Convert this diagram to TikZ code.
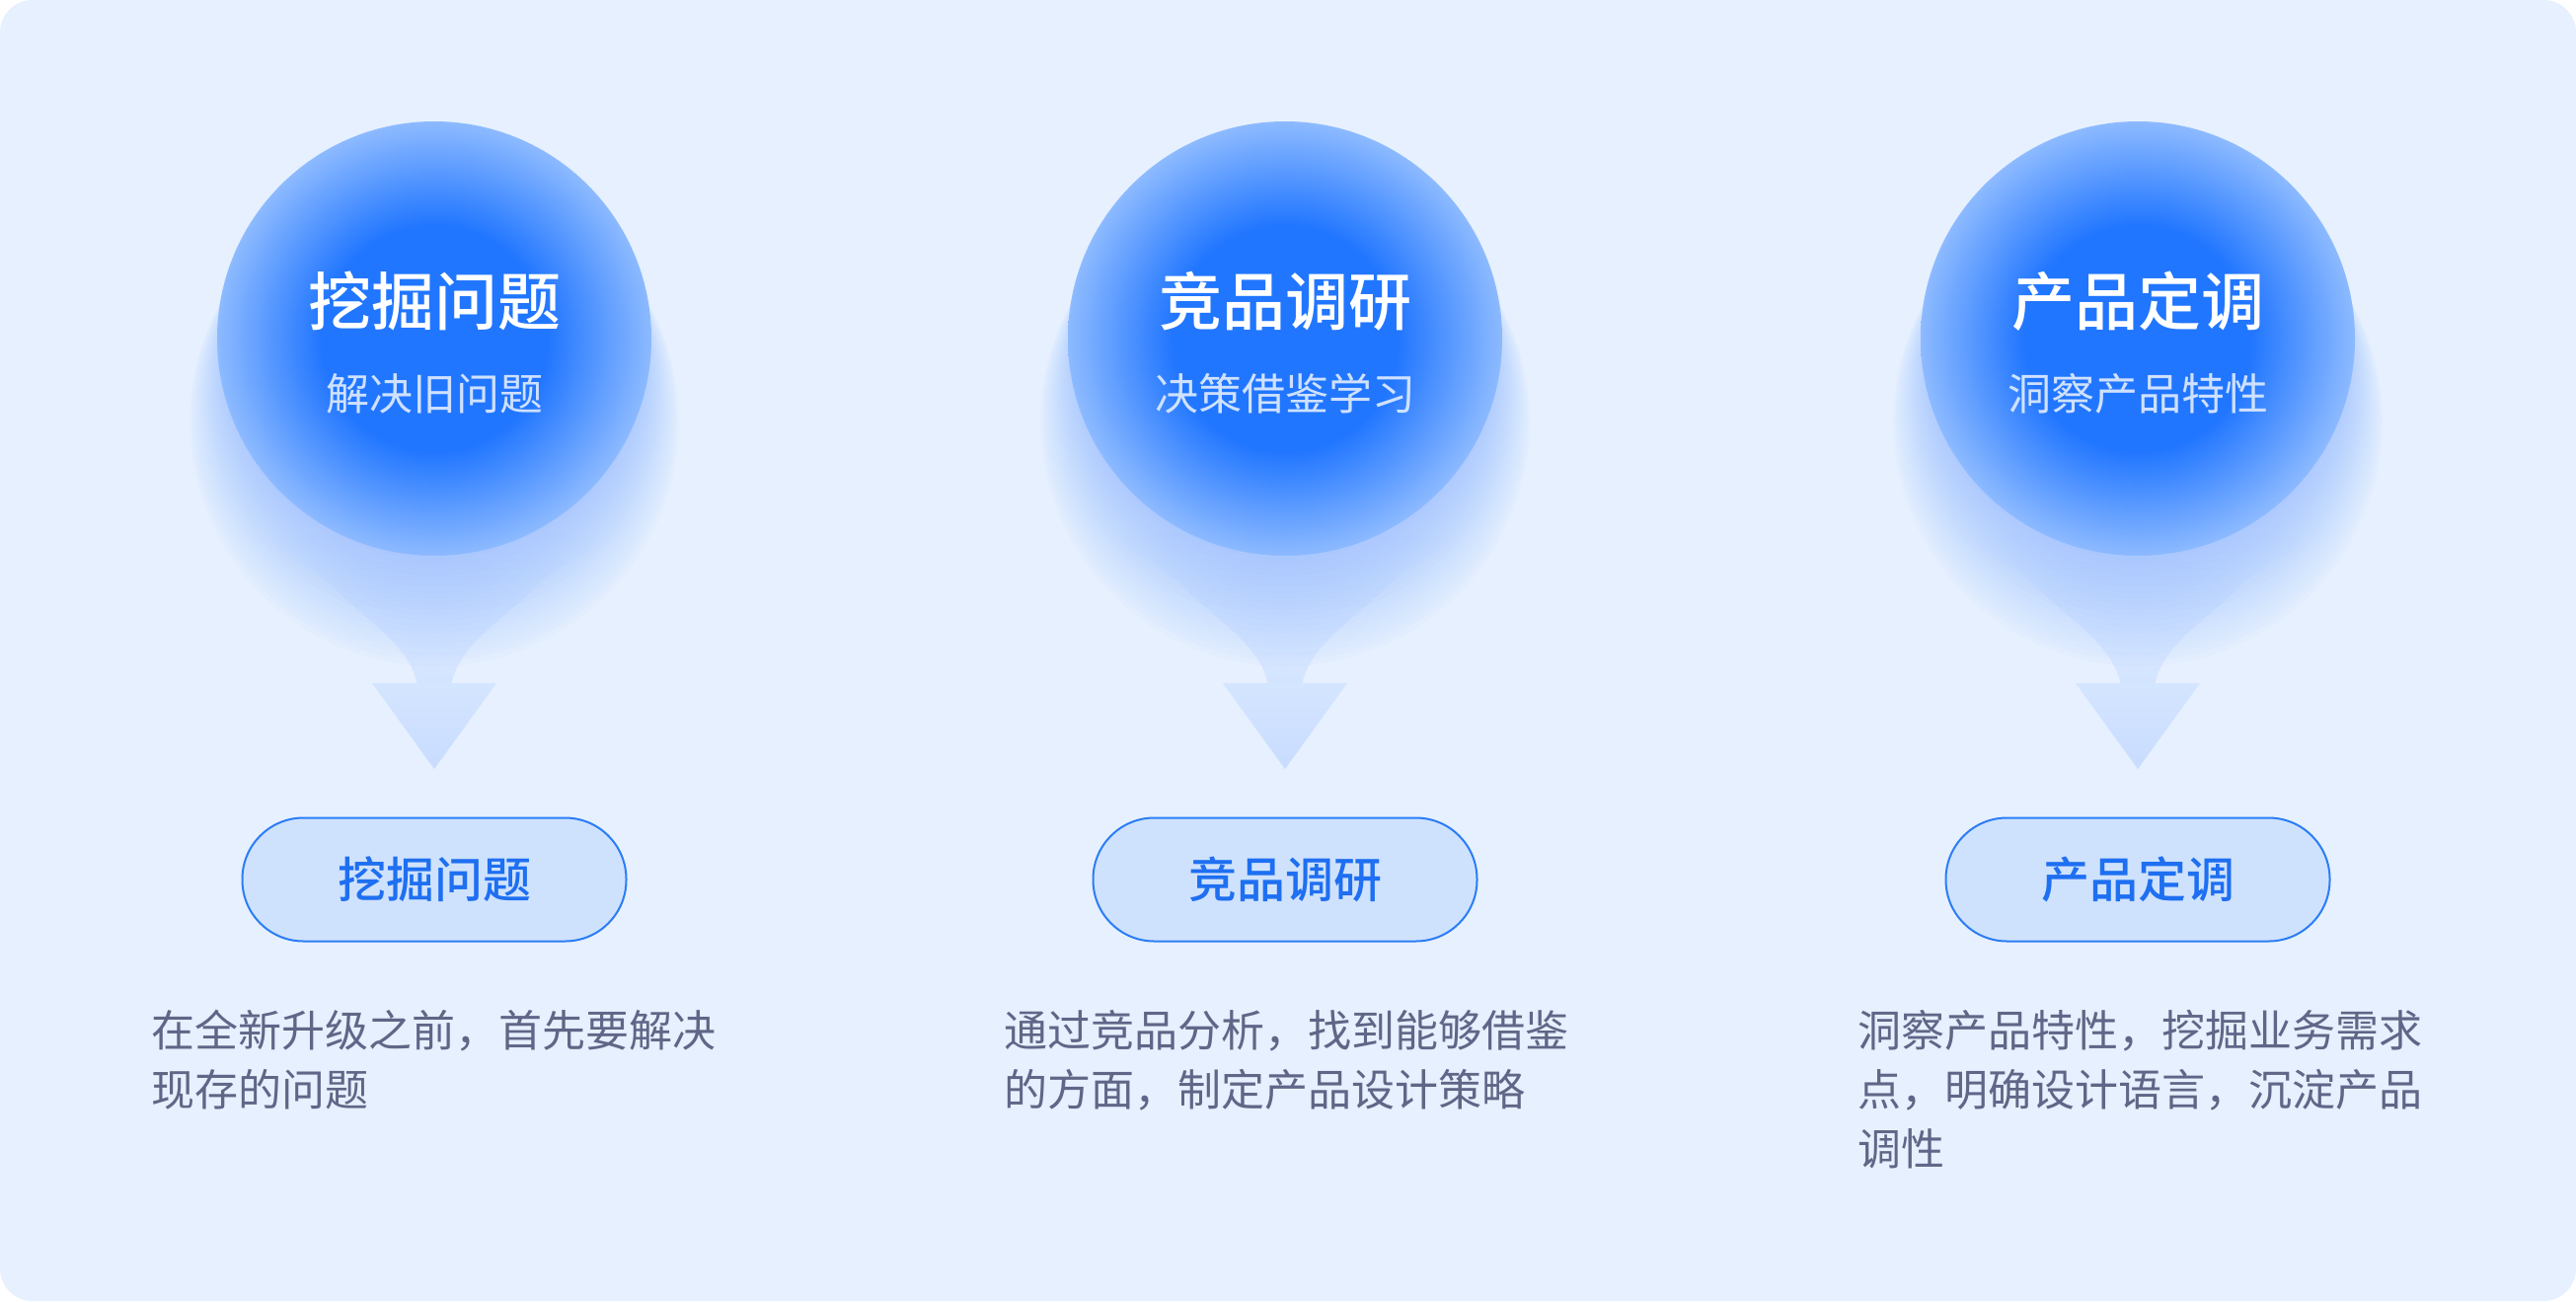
\documentclass[tikz,border=0pt]{standalone}
\usepackage{fontspec}
\setmainfont{Noto Sans CJK SC}
\newfontfamily\medfont{Noto Sans CJK SC Medium}
\definecolor{bg}{HTML}{E6F0FE}
\definecolor{ballin}{HTML}{2176FF}
\definecolor{ballout}{HTML}{8DBAFF}
\definecolor{glowc}{HTML}{6FA6FF}
\definecolor{funmid}{HTML}{CCDFFF}
\definecolor{funbot}{HTML}{D3E4FF}
\definecolor{tritop}{HTML}{D4E5FF}
\definecolor{tribot}{HTML}{C9DCFF}
\definecolor{subc}{HTML}{CFE1FF}
\definecolor{pillfill}{HTML}{CFE2FD}
\definecolor{pillline}{HTML}{2C7DF6}
\definecolor{pilltext}{HTML}{1E6FF1}
\definecolor{desc}{HTML}{5F6687}
\pgfdeclareradialshading{ballsh}{\pgfpoint{0bp}{0bp}}{color(0bp)=(ballin); color(13bp)=(ballin); color(25bp)=(ballout); color(50bp)=(ballout)}
\tikzset{
  ball/.style={circle, minimum size=440pt, inner sep=0pt, shade, shading=ballsh},
  titletext/.style={anchor=base, inner sep=0pt, text=white, font=\fontsize{64}{70}\medfont},
  subtext/.style={anchor=base, inner sep=0pt, text=subc, font=\fontsize{44}{50}\selectfont},
  pill/.style={draw=pillline, line width=2pt, fill=pillfill, rounded corners=62pt, minimum width=389pt, minimum height=125pt, inner sep=0pt, text height=43pt, text depth=6pt, text=pilltext, font=\fontsize{49}{55}\medfont},
  desctext/.style={anchor=north west, inner sep=0pt, align=left, text=desc, font=\fontsize{44}{60}\selectfont},
  funnel/.style={top color=bg, middle color=funmid, bottom color=funbot},
  arrowhd/.style={top color=tritop, bottom color=tribot},
  glow/.style={glowc, opacity=0.026}
}
\newcommand\mystage[4]{%
  \begin{scope}[shift={(#2,0)}]
    \shade[funnel] (-200,535) .. controls (-150,560) and (-125,575) .. (-107,590) .. controls (-85,617) and (-25,650) .. (-17.5,692.5) -- (17.5,692.5) .. controls (25,650) and (85,617) .. (107,590) .. controls (125,575) and (150,560) .. (200,535) -- cycle;
    \shade[arrowhd] (-63,692) -- (63,692) -- (0,779) -- cycle;
    \foreach \i in {0,...,24} \fill[glow] (0,{343+3.5*\i}) circle[radius={195pt+2.2pt*\i}];
    \node[ball] (#1c) at (0,343) {};
    \node[titletext] (#1t) at (0,329) {#3};
    \node[subtext] (#1s) at (0,415) {#4};
    \node[pill] (#1p) at (0,891) {#3};
  \end{scope}}
\begin{document}
\begin{tikzpicture}[x=1pt,y=-1pt]
\useasboundingbox (0,0) rectangle (2610,1318);
\fill[white] (0,0) rectangle (2610,1318);
\fill[bg, rounded corners=33pt] (0,0) rectangle (2610,1318);
\mystage{a}{440}{挖掘问题}{解决旧问题}
\mystage{b}{1302}{竞品调研}{决策借鉴学习}
\mystage{c}{2166}{产品定调}{洞察产品特性}
\node[desctext] (ad) at (153,1010) {\rule{0pt}{50pt}在全新升级之前，首先要解决\\现存的问题};
\node[desctext] (bd) at (1017,1010) {\rule{0pt}{50pt}通过竞品分析，找到能够借鉴\\的方面，制定产品设计策略};
\node[desctext] (cd) at (1882,1010) {\rule{0pt}{50pt}洞察产品特性，挖掘业务需求\\点，明确设计语言，沉淀产品\\调性};
\end{tikzpicture}
\end{document}
